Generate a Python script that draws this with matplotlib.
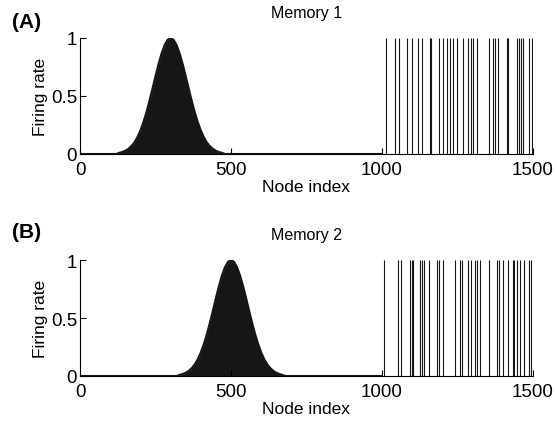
import matplotlib
matplotlib.use("Agg")
import matplotlib.pyplot as plt

plt.rcParams['font.family'] = ['Liberation Sans', 'DejaVu Sans']

# firing-rate bump (rate-coded part, nodes 0-1000)
bump_offsets = [-180, -170, -160, -150, -140, -130, -120, -110, -100,
                -90, -80, -70, -60, -50, -40, -30, -20, -10, 0,
                10, 20, 30, 40, 50, 60, 70, 80, 90, 100,
                110, 120, 130, 140, 150, 160, 170, 180]
bump_rates = [0.0, 0.01, 0.017, 0.028, 0.044, 0.068, 0.10, 0.145, 0.203,
              0.275, 0.36, 0.458, 0.563, 0.671, 0.775, 0.866, 0.938, 0.984, 1.0,
              0.984, 0.938, 0.866, 0.775, 0.671, 0.563, 0.458, 0.36, 0.275, 0.203,
              0.145, 0.10, 0.068, 0.044, 0.028, 0.017, 0.01, 0.0]

mem1_center = 300
mem2_center = 500

# binary nodes (1000-1500) that fire
mem1_spikes = [1012, 1044, 1057, 1084, 1099, 1120, 1131, 1160, 1163, 1190,
               1201, 1216, 1225, 1234, 1249, 1267, 1286, 1294, 1302, 1316,
               1355, 1367, 1374, 1383, 1414, 1417, 1446, 1454, 1460, 1466,
               1486, 1496]
mem2_spikes = [1007, 1054, 1062, 1093, 1098, 1104, 1126, 1132, 1140, 1157,
               1181, 1190, 1203, 1242, 1257, 1264, 1286, 1294, 1308, 1313,
               1325, 1355, 1382, 1389, 1402, 1418, 1433, 1438, 1446, 1457,
               1470, 1488, 1494]

titles = ["Memory 1", "Memory 2"]
panel_tags = ["(A)", "(B)"]
xticks = [0, 500, 1000, 1500]
yticks = [0, 0.5, 1]
ytick_labels = ["0", "0.5", "1"]

fig = plt.figure(figsize=(5.57, 4.31), dpi=100)
W, H = 557, 431

# center, spikes, axes top px, axes bottom px, tag y px
panels = [
    (mem1_center, mem1_spikes, 39, 155, 23),
    (mem2_center, mem2_spikes, 261, 377, 233),
]

for i, (center, spikes, top, bottom, tag_y) in enumerate(panels):
    ax = fig.add_axes([80 / W, 1 - bottom / H, 453 / W, (bottom - top) / H])
    nodes = [0] + [center + o for o in bump_offsets] + [1000]
    rates = [0] + bump_rates + [0]
    ax.fill_between(nodes, rates, 0, color='#161616', lw=0)
    ax.plot(nodes, rates, color='#161616', lw=1.5, solid_capstyle='butt')
    ax.vlines(spikes, 0, 1, color='#161616', lw=0.8)

    ax.set_xlim(0, 1500)
    ax.set_ylim(0, 1)
    ax.set_xticks(xticks)
    ax.set_yticks(yticks)
    ax.set_yticklabels(ytick_labels)
    ax.tick_params(direction='in', length=4, width=0.8, labelsize=13.5,
                   pad=5)
    ax.tick_params(axis='y', pad=2)
    for s in ['top', 'right']:
        ax.spines[s].set_visible(False)
    for s in ['left', 'bottom']:
        ax.spines[s].set_linewidth(0.8)
    ax.set_xlabel("Node index", fontsize=12.5, labelpad=1)
    ax.set_ylabel("Firing rate", fontsize=12.5, labelpad=2)
    ax.set_title(titles[i], fontsize=11.5, pad=15)
    fig.text(12 / W, 1 - tag_y / H, panel_tags[i], fontsize=15,
             fontweight='bold', va='center', ha='left')

fig.savefig("out.png", dpi=100)
